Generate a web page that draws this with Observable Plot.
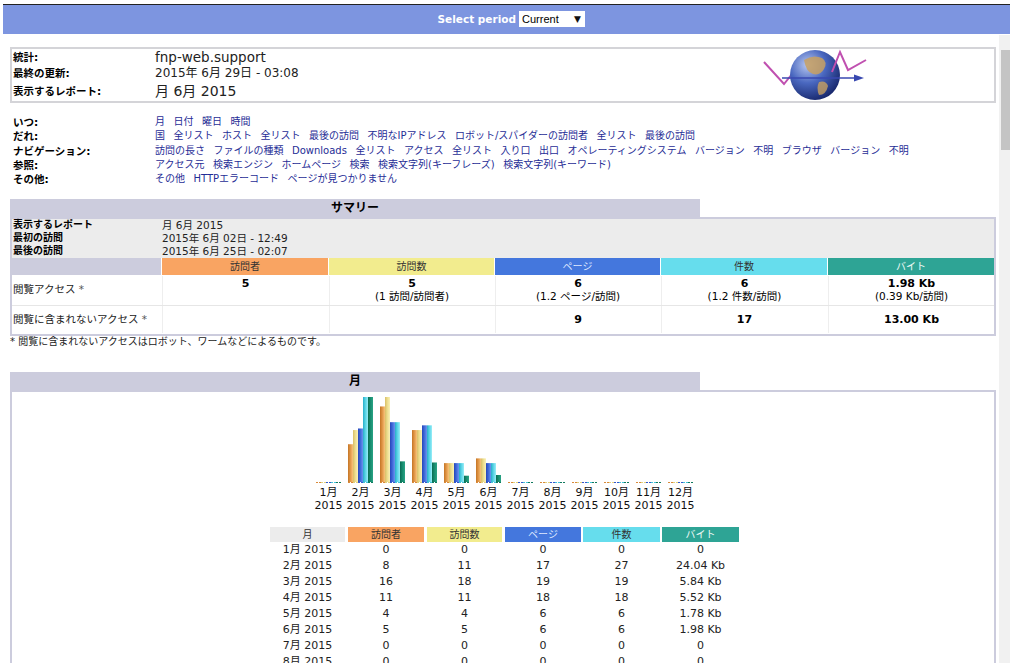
<!DOCTYPE html>
<html>
<head>
<meta charset="utf-8">
<script src="https://cdn.jsdelivr.net/npm/d3@7"></script>
<script src="https://cdn.jsdelivr.net/npm/@observablehq/plot@0.6"></script>
<style>
html,body{margin:0;padding:0;overflow:hidden;width:1010px;height:663px;background:#fff;}
body{font-family:"DejaVu Sans","Noto Sans CJK JP",sans-serif;font-size:11px;color:#000;position:relative;}
.a{position:absolute;white-space:nowrap;}
.lbl{font-weight:bold;font-size:10.5px;line-height:14px;}
.menu{display:flex;gap:8.5px;color:#1f2d96;font-size:10px;line-height:14px;}
.cell{position:absolute;text-align:center;box-sizing:border-box;}
.tab{position:absolute;background:#ccccdd;font-weight:bold;font-size:12px;text-align:center;line-height:18px;}
</style>
</head>
<body>
<script>
// ---------------- data ----------------
const monthNums = [1,2,3,4,5,6,7,8,9,10,11,12];
const yearLabel = "2015";
const seriesKeys = ["訪問者","訪問数","ページ","件数","バイト"];
const visitors = [0,8,16,11,4,5,0,0,0,0,0,0];
const visits   = [0,11,18,11,4,5,0,0,0,0,0,0];
const pages    = [0,17,19,18,6,6,0,0,0,0,0,0];
const hits     = [0,27,19,18,6,6,0,0,0,0,0,0];
const bytesKb  = [0,24.04,5.84,5.52,1.78,1.98,0,0,0,0,0,0];
const tableMonthsShown = 8; // rows visible in the window

const summaryViewed    = ["5","5","6","6","1.98 Kb"];
const summaryViewedSub = ["","(1 訪問/訪問者)","(1.2 ページ/訪問)","(1.2 件数/訪問)","(0.39 Kb/訪問)"];
const summaryNotViewed = ["","","9","17","13.00 Kb"];

const headerColors = ["#f9a462","#f2ec8e","#4477dd","#66dded","#2ea495"];
const headerText   = ["#333","#333","#dfe8ff","#333","#eefaf6"];
const barStops = [
  ["#c47526","#e09545","#f8c47c"],
  ["#d8bf68","#ecdc8c","#faf2b8"],
  ["#2646b8","#3d66d8","#6c96ee"],
  ["#28aec8","#55d2e4","#9aeef8"],
  ["#0a6a52","#168a6c","#2aa486"]
];
const barSolid = ["#d98a3a","#e4d27e","#3558cc","#44c4da","#107a5e"];

// ---------------- static page ----------------
function el(tag, cls, style, html){
  const e = document.createElement(tag);
  if(cls) e.className = cls;
  if(style) e.style.cssText = style;
  if(html!==undefined) e.innerHTML = html;
  document.body.appendChild(e);
  return e;
}
// top bar
el("div","a","left:3px;top:4px;width:1007px;height:29px;background:#7d95e0;border-top:1px solid #222;");
el("div","a","right:494px;top:11px;color:#fff;font-weight:bold;font-size:10.5px;line-height:16px;text-align:right;","Select period");
el("div","a","left:519px;top:11px;width:66px;height:16px;background:#fff;font-size:11px;line-height:16px;font-family:'Liberation Sans',sans-serif;","&nbsp;Current");
el("div","a","left:574px;top:11px;font-size:9px;line-height:16px;color:#111;","▼");
// scrollbar
el("div","a","left:999px;top:35px;width:11px;height:628px;background:#f1f1f1;");
el("div","a","left:1001px;top:50px;width:9px;height:100px;background:#c4c4c4;");

// header box
el("div","a","left:10px;top:47px;width:982px;height:52px;border:2px solid #d4d4d8;");
el("div","a lbl","left:13px;top:50px;","統計:");
el("div","a lbl","left:13px;top:66px;","最終の更新:");
el("div","a lbl","left:13px;top:84px;","表示するレポート:");
el("div","a","left:155px;top:49px;font-size:13.5px;line-height:16px;color:#222;","fnp-web.support");
el("div","a","left:155px;top:65px;font-size:12px;line-height:16px;color:#222;","2015年 6月 29日 - 03:08");
el("div","a","left:155px;top:82px;font-size:14px;line-height:18px;color:#222;","月 6月 2015");
// logo
el("div","a","left:758px;top:46px;width:112px;height:56px;",`
<svg width="112" height="56" viewBox="0 0 112 56">
<defs><radialGradient id="glb" cx="0.35" cy="0.3" r="0.8">
<stop offset="0" stop-color="#b8c8f0"/><stop offset="0.45" stop-color="#4a68c0"/><stop offset="1" stop-color="#101e60"/></radialGradient></defs>
<polyline points="6,16 26,38 42,18" fill="none" stroke="#c050b0" stroke-width="2"/>
<circle cx="57" cy="29" r="25" fill="url(#glb)"/>
<path d="M46,14 q9,-6 18,-2 q6,4 2,11 q-4,7 -11,5 q-7,-2 -9,-14z" fill="#c8a060" opacity="0.85"/>
<path d="M61,36 q7,-2 9,4 q-2,9 -9,9 q-3,-7 0,-13z" fill="#c8a060" opacity="0.8"/>
<polyline points="74,26 82,6 90,24 108,14" fill="none" stroke="#c050b0" stroke-width="2"/>
<line x1="24" y1="32" x2="98" y2="32" stroke="#3848b0" stroke-width="1.6"/>
<polygon points="96,28.5 106,32 96,35.5" fill="#3848b0"/>
</svg>`);

// menu
const menuRows = [
  ["いつ:", ["月","日付","曜日","時間"]],
  ["だれ:", ["国","全リスト","ホスト","全リスト","最後の訪問","不明なIPアドレス","ロボット/スパイダーの訪問者","全リスト","最後の訪問"]],
  ["ナビゲーション:", ["訪問の長さ","ファイルの種類","Downloads","全リスト","アクセス","全リスト","入り口","出口","オペレーティングシステム","バージョン","不明","ブラウザ","バージョン","不明"]],
  ["参照:", ["アクセス元","検索エンジン","ホームページ","検索","検索文字列(キーフレーズ)","検索文字列(キーワード)"]],
  ["その他:", ["その他","HTTPエラーコード","ページが見つかりません"]]
];
const menuY = [122,136,151,165,179];
menuRows.forEach((r,i)=>{
  el("div","a lbl",`left:13px;top:${menuY[i]-7}px;`, r[0]);
  el("div","a menu",`left:155px;top:${menuY[i]-7}px;`, r[1].map(t=>`<span>${t}</span>`).join(""));
});

// summary
el("div","tab","left:10px;top:199px;width:690px;height:18px;","サマリー");
el("div","a","left:10px;top:217px;width:982px;height:115px;border:2px solid #ccccdd;background:#fff;");
el("div","a","left:12px;top:219px;width:982px;height:39px;background:#ececec;");
[["表示するレポート","月 6月 2015",225],["最初の訪問","2015年 6月 02日 - 12:49",238],["最後の訪問","2015年 6月 25日 - 02:07",251]].forEach(r=>{
  el("div","a lbl",`left:13px;top:${r[2]-7}px;font-size:10px;`, r[0]);
  el("div","a",`left:162px;top:${r[2]-7}px;line-height:14px;font-size:10.5px;color:#222;`, r[1]);
});
const colX = [162,329,495,661,828];
const colW = [166,165,165,166,166];
el("div","a","left:12px;top:258px;width:149px;height:17px;background:#ccccdd;");
seriesKeys.forEach((k,j)=>{
  el("div","cell",`left:${colX[j]}px;top:258px;width:${colW[j]}px;height:17px;background:${headerColors[j]};color:${headerText[j]};font-size:10px;line-height:17px;`, k);
  el("div","cell",`left:${colX[j]}px;top:276px;width:${colW[j]}px;height:29px;border-left:1px solid #eee;line-height:12px;padding-top:2px;font-size:11px;`,
     `<b>${summaryViewed[j]}</b><br><span style="font-size:10.5px">${summaryViewedSub[j]}</span>`);
  el("div","cell",`left:${colX[j]}px;top:306px;width:${colW[j]}px;height:27px;border-left:1px solid #eee;line-height:27px;font-weight:bold;font-size:11px;`, summaryNotViewed[j]);
});
el("div","a","left:12px;top:305px;width:982px;height:1px;background:#e6e6e6;");
el("div","a","left:13px;top:282px;line-height:14px;font-size:10.5px;color:#222;","閲覧アクセス <span style='color:#555'>*</span>");
el("div","a","left:13px;top:312px;line-height:14px;font-size:10.5px;color:#222;","閲覧に含まれないアクセス <span style='color:#555'>*</span>");
el("div","a","left:10px;top:335px;line-height:13px;font-size:10px;color:#222;","* 閲覧に含まれないアクセスはロボット、ワームなどによるものです。");

// month section
el("div","tab","left:10px;top:372px;width:690px;height:18px;","月");
el("div","a","left:10px;top:390px;width:982px;height:300px;border:2px solid #ccccdd;background:#fff;");

// ---------------- chart ----------------
const maxV = d3.max(visits), maxH = d3.max(hits), maxK = d3.max(bytesKb);
const seriesVals = [visitors, visits, pages, hits, bytesKb];
const seriesMax = [maxV, maxV, maxH, maxH, maxK];
const rows = [];
monthNums.forEach((m,i)=>{
  seriesKeys.forEach((k,j)=>{
    rows.push({month:m, series:k, j, value:seriesVals[j][i], frac:seriesVals[j][i]/seriesMax[j]});
  });
});

const chart = Plot.plot({
  width: 404,
  height: 120,
  marginTop: 5,
  marginBottom: 30,
  marginLeft: 10,
  marginRight: 10,
  style: {background:"transparent", fontFamily:"'DejaVu Sans','Noto Sans CJK JP',sans-serif", fontSize:"11px", color:"#111", overflow:"visible"},
  fx: {domain: monthNums, paddingInner: 0.12, paddingOuter: 0.06, label: null},
  x: {domain: seriesKeys, padding: 0, axis: null},
  y: {domain: [0,1], axis: null},
  marks: [
    ...seriesKeys.map((k,j)=>Plot.barY(rows.filter(d=>d.j===j), {fx:"month", x:"series", y:"frac", fill:`url(#bar${j})`})),
    Plot.tickY(rows, {fx:"month", x:"series", y:0, stroke:d=>barSolid[d.j], strokeWidth:1, strokeDasharray:"2,1"}),
    Plot.axisFx({anchor:"bottom", tickSize:0, tickPadding:4, lineHeight:1.2, fontSize:11, label:null, tickFormat:m=>`${m}月\n${yearLabel}`})
  ]
});
const defs = d3.create("svg:defs");
barStops.forEach((s,j)=>{
  const g = defs.append("linearGradient").attr("id",`bar${j}`).attr("x1",0).attr("x2",1).attr("y1",0).attr("y2",0);
  g.append("stop").attr("offset","0").attr("stop-color",s[0]);
  g.append("stop").attr("offset","0.45").attr("stop-color",s[1]);
  g.append("stop").attr("offset","1").attr("stop-color",s[2]);
});
chart.insertBefore(defs.node(), chart.firstChild);
chart.style.position = "absolute";
chart.style.left = "302px";
chart.style.top = "392px";
document.body.appendChild(chart);

// ---------------- month table ----------------
const tCols = [[270,75],[348,76],[427,75],[505,76],[583,77],[662,77]];
const tHead = ["月", ...seriesKeys];
tHead.forEach((h,c)=>{
  const bg = c===0 ? "#ececec" : headerColors[c-1];
  const fg = c===0 ? "#333" : headerText[c-1];
  el("div","cell",`left:${tCols[c][0]}px;top:527px;width:${tCols[c][1]}px;height:15px;background:${bg};color:${fg};font-size:10px;line-height:15px;`, h);
});
monthNums.slice(0, tableMonthsShown).forEach((m,i)=>{
  const y = 550 + 16*i - 7;
  const vals = [`${m}月 ${yearLabel}`, visitors[i], visits[i], pages[i], hits[i], bytesKb[i]>0 ? `${bytesKb[i].toFixed(2)} Kb` : "0"];
  vals.forEach((v,c)=>{
    el("div","cell",`left:${tCols[c][0]}px;top:${y}px;width:${tCols[c][1]}px;height:14px;font-size:11px;line-height:14px;color:#222;`, String(v));
  });
});
</script>
</body>
</html>
